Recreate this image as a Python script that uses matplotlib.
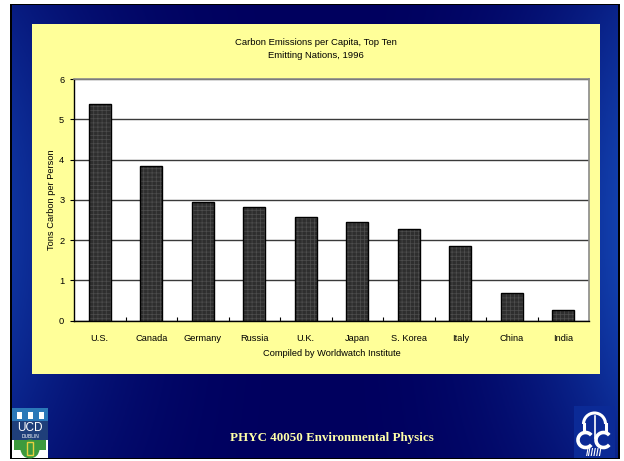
import numpy as np
import matplotlib
matplotlib.use("Agg")
import matplotlib.pyplot as plt
from matplotlib.patches import Rectangle, Circle, Arc

# --- data ---
countries = ["U.S.", "Canada", "Germany", "Russia", "U.K.",
             "Japan", "S. Korea", "Italy", "China", "India"]
tons_per_person = [5.39, 3.85, 2.95, 2.83, 2.58, 2.45, 2.28, 1.86, 0.69, 0.26]
y_ticks = [0, 1, 2, 3, 4, 5, 6]

title = "Carbon Emissions per Capita, Top Ten\nEmitting Nations, 1996"
y_label = "Tons Carbon per Person"
x_label = "Compiled by Worldwatch Institute"
footer = "PHYC 40050 Environmental Physics"

plt.rcParams["font.family"] = ["Liberation Sans", "DejaVu Sans"]
plt.rcParams["hatch.linewidth"] = 0.5

W, H = 624, 461
fig = plt.figure(figsize=(W / 100, H / 100), dpi=100)
fig.patch.set_facecolor("white")

# --- slide background (pixel coordinates, y pointing down) ---
bg = fig.add_axes([0, 0, 1, 1])
bg.set_xlim(0, W)
bg.set_ylim(H, 0)
bg.axis("off")

bg.add_patch(Rectangle((10, 4), 610, 455, facecolor="black", edgecolor="none"))
gx = np.linspace(0, 1, 300)
gy = np.linspace(0, 1, 200)
XX, YY = np.meshgrid(gx, gy)
t = np.clip(np.abs(2 * XX - 1) ** 2.5 * (0.55 + 0.45 * np.sin(np.pi * YY)), 0, 1)
t = t * np.where(XX > 0.5, 1.0, 0.8)
dark = np.array([0.0, 0.0, 0.37])
light = np.array([0.07, 0.25, 0.68])
grad = dark[None, None, :] * (1 - t[..., None]) + light[None, None, :] * t[..., None]
bg.imshow(grad, extent=(12, 618, 458, 6), aspect="auto", zorder=1)

# yellow chart panel
bg.add_patch(Rectangle((32, 24), 568, 350, facecolor="#ffff99", edgecolor="none", zorder=2))

# footer text
bg.text(332, 438, footer, ha="center", va="center", fontsize=9.4, fontweight="bold",
        family=["Liberation Serif", "DejaVu Serif"], color="#ffffa8", zorder=3)

# UCD logo (rough)
bg.add_patch(Rectangle((12, 408), 36, 50, facecolor="#2b78b8", edgecolor="none", zorder=3))
bg.add_patch(Rectangle((12, 421), 36, 19, facecolor="#1f3f7a", edgecolor="none", zorder=3))
for tx in (19, 30, 41):
    bg.add_patch(Rectangle((tx - 2.5, 412), 5, 7, facecolor="white", edgecolor="none", zorder=4))
bg.text(30, 428, "UCD", ha="center", va="center", fontsize=8.5, color="white", zorder=4)
bg.text(30, 436.5, "DUBLIN", ha="center", va="center", fontsize=3.5, color="white", zorder=4)
bg.add_patch(Rectangle((12, 440), 36, 18, facecolor="white", edgecolor="none", zorder=3))
bg.add_patch(Rectangle((14, 440), 32, 10, facecolor="#3d9a3d", edgecolor="none", zorder=4))
bg.add_patch(Circle((30, 449), 9.5, facecolor="#3d9a3d", edgecolor="none", zorder=4))
bg.add_patch(Rectangle((27, 442), 6, 13, facecolor="none", edgecolor="#e8d040", lw=1, zorder=5))

# right logo (rough): bell arch over two C's, hatch marks below
bg.add_patch(Rectangle((574, 406), 41, 52, facecolor="#0b2a96", edgecolor="none", zorder=3))
bg.add_patch(Arc((594.5, 424), 22, 22, theta1=180, theta2=360, color="white", lw=2.2, zorder=4))
bg.plot([583.5, 583.5], [424, 432], color="white", lw=2.2, zorder=4)
bg.plot([605.5, 605.5], [424, 432], color="white", lw=2.2, zorder=4)
bg.plot([594.5, 594.5], [416, 438], color="white", lw=1.2, zorder=4)
bg.add_patch(Arc((585.5, 440), 15, 15, theta1=40, theta2=320, color="white", lw=2.6, zorder=4))
bg.add_patch(Arc((603.5, 440), 15, 15, theta1=40, theta2=320, color="white", lw=2.6, zorder=4))
bg.text(594.5, 453, "//////", ha="center", va="center", fontsize=7, color="white",
        fontweight="bold", zorder=4)

# --- chart axes ---
ax = fig.add_axes([74 / W, (H - 320.5) / H, 515 / W, 241.5 / H])
ax.set_facecolor("white")
x = np.arange(len(countries))
ax.bar(x, tons_per_person, width=0.42, facecolor="#2e2e2e", edgecolor="#4e4e4e",
       hatch="++++", linewidth=0, zorder=3)
ax.bar(x, tons_per_person, width=0.42, fill=False, edgecolor="black", linewidth=1, zorder=4)

ax.set_xlim(-0.5, len(countries) - 0.5)
ax.set_ylim(0, 6)
ax.set_yticks(y_ticks)
ax.yaxis.grid(True, color="#3a3a3a", linewidth=1)
ax.set_axisbelow(True)

ax.set_xticks(x, labels=countries, minor=True)
ax.set_xticks(np.arange(0.5, len(countries) - 1, 1.0))
ax.set_xticklabels([])
ax.tick_params(axis="x", which="major", direction="in", length=3, width=0.8)
ax.tick_params(axis="x", which="minor", length=0, pad=10, labelsize=6.7)
ax.tick_params(axis="y", direction="out", length=3, width=0.8, pad=4, labelsize=6.7)

for side in ("top", "right"):
    ax.spines[side].set_color("#8a8a8a")
    ax.spines[side].set_linewidth(1.2)
for side in ("left", "bottom"):
    ax.spines[side].set_color("black")
    ax.spines[side].set_linewidth(1)

ax.set_ylabel(y_label, fontsize=6.7, labelpad=2)
ax.set_xlabel(x_label, fontsize=6.7, labelpad=4)

# title sits in the yellow panel, above the plot area
bg.text(316, 49, title, ha="center", va="center", fontsize=6.8, linespacing=1.45, zorder=3)

fig.savefig("out.png", dpi=100)
